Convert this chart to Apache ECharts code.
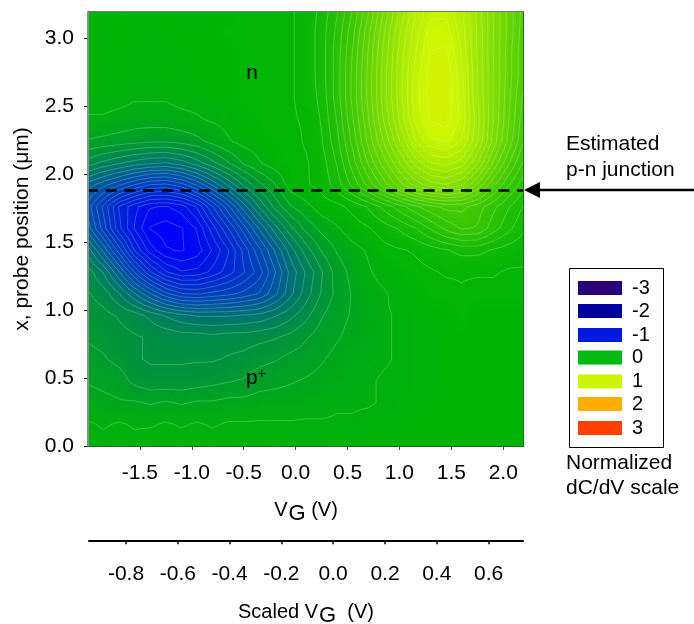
<!DOCTYPE html>
<html><head><meta charset="utf-8">
<style>html,body{margin:0;padding:0;background:#fff}#c{width:694px;height:624px}</style>
<script src="https://cdn.jsdelivr.net/npm/echarts@6/dist/echarts.min.js"></script>
</head><body><div id="c"></div>
<script>
const gateVoltages = [-2,-1.85,-1.7,-1.55,-1.4,-1.25,-1.1,-.95,-.8,-.65,-.5,-.35,-.2,-.05,.1,.25,.4,.55,.7,.85,1,1.15,1.3,1.45,1.6,1.75,1.9,2.05,2.2];
const positions = [3.2,3.04,2.88,2.72,2.56,2.4,2.24,2.08,1.92,1.76,1.6,1.44,1.28,1.12,.96,.8,.64,.48,.32,.16,0];
const dCdV = [
[0,0,.01,0,0,0,0,-.01,0,0,.01,.01,.02,.02,.04,.09,.17,.28,.42,.58,.73,.87,.96,.96,.88,.76,.63,.51,.4],
[0,-.01,0,0,-.01,0,0,0,0,.01,.01,.02,.02,.02,.04,.1,.19,.31,.46,.62,.77,.9,1,1,.9,.77,.63,.51,.39],
[-.01,0,0,-.01,-.01,-.01,0,0,0,0,.01,.01,.02,.02,.04,.1,.2,.33,.48,.64,.79,.92,1.03,1.04,.92,.77,.63,.5,.38],
[0,-.01,0,-.01,-.01,0,-.01,0,0,0,.01,.01,.02,.02,.04,.1,.2,.34,.49,.65,.8,.94,1.05,1.06,.94,.78,.63,.5,.38],
[-.01,-.01,-.01,-.02,-.02,-.02,-.01,-.01,0,0,.01,.01,.02,.02,.04,.09,.2,.34,.49,.65,.8,.95,1.05,1.06,.95,.78,.63,.49,.36],
[-.03,-.03,-.04,-.05,-.05,-.05,-.04,-.03,-.02,-.01,0,.01,.02,.02,.03,.08,.18,.32,.47,.63,.78,.93,1.03,1.05,.96,.8,.63,.48,.34],
[-.08,-.09,-.1,-.11,-.12,-.12,-.11,-.09,-.06,-.03,-.01,0,.01,.01,.03,.07,.16,.29,.44,.58,.72,.87,.96,.98,.92,.78,.61,.46,.32],
[-.2,-.24,-.27,-.3,-.32,-.33,-.3,-.25,-.19,-.13,-.07,-.03,0,.01,.02,.05,.13,.25,.38,.5,.62,.74,.82,.84,.8,.68,.52,.38,.26],
[-.4,-.46,-.52,-.58,-.63,-.64,-.6,-.52,-.42,-.32,-.22,-.14,-.08,0,.02,.04,.1,.19,.29,.4,.5,.59,.65,.67,.63,.52,.39,.28,.19],
[-.5,-.64,-.78,-.86,-.92,-.93,-.9,-.82,-.68,-.54,-.4,-.27,-.16,-.08,-.04,0,.01,.04,.08,.14,.2,.26,.31,.34,.34,.3,.24,.18,.12],
[-.45,-.6,-.76,-.88,-.98,-1,-.98,-.92,-.8,-.68,-.55,-.42,-.3,-.19,-.11,-.06,-.03,0,.02,.05,.08,.12,.18,.24,.28,.27,.2,.14,.08],
[-.3,-.44,-.6,-.78,-.9,-.97,-.98,-.95,-.87,-.78,-.66,-.54,-.42,-.3,-.2,-.12,-.07,-.04,-.02,.01,.02,.03,.05,.07,.09,.09,.07,.05,.04],
[-.2,-.28,-.42,-.58,-.72,-.82,-.87,-.86,-.81,-.75,-.68,-.6,-.48,-.36,-.27,-.18,-.1,-.06,-.03,-.01,0,.01,.02,.03,.03,.03,.03,.02,.02],
[-.17,-.2,-.27,-.37,-.47,-.56,-.62,-.63,-.61,-.59,-.56,-.52,-.44,-.34,-.25,-.17,-.11,-.07,-.04,-.03,-.01,0,.01,.01,.02,.01,.01,.01,.01],
[-.15,-.16,-.18,-.2,-.24,-.28,-.31,-.33,-.33,-.33,-.32,-.31,-.28,-.24,-.19,-.13,-.09,-.07,-.05,-.03,-.02,-.01,0,0,.01,0,0,0,0],
[-.13,-.14,-.16,-.17,-.18,-.19,-.2,-.2,-.21,-.2,-.2,-.19,-.18,-.16,-.13,-.1,-.08,-.06,-.05,-.03,-.02,-.01,-.01,0,0,0,0,0,0],
[-.11,-.12,-.14,-.17,-.18,-.18,-.18,-.18,-.18,-.17,-.16,-.14,-.13,-.11,-.1,-.08,-.06,-.05,-.04,-.03,-.02,-.01,-.01,0,0,0,0,0,0],
[-.08,-.09,-.1,-.14,-.16,-.16,-.16,-.15,-.14,-.13,-.12,-.1,-.09,-.08,-.07,-.06,-.05,-.04,-.03,-.02,-.02,-.01,-.01,0,0,0,0,0,0],
[-.05,-.06,-.07,-.07,-.08,-.07,-.08,-.07,-.07,-.06,-.06,-.05,-.05,-.05,-.04,-.04,-.03,-.03,-.03,-.02,-.01,-.01,0,0,0,0,0,0,0],
[-.02,-.03,-.02,-.03,-.03,-.02,-.03,-.02,-.03,-.02,-.02,-.02,-.02,-.02,-.02,-.02,-.02,-.02,-.01,-.01,-.01,0,0,0,0,0,0,0,0],
[0,-.01,0,-.01,0,-.01,0,-.01,0,-.01,0,-.01,0,-.01,-.01,-.01,0,-.01,0,0,0,0,0,0,0,0,0,0,0]
];
const xTicks = [-1.5,-1,-.5,0,.5,1,1.5,2];
const yTicks = [0,.5,1,1.5,2,2.5,3];
const scaledTicks = [-.8,-.6,-.4,-.2,0,.2,.4,.6];
const junctionPosition = 1.88;
const legendLabels = ['-3','-2','-1','0','1','2','3'];
const legendColors = ['#2b0078','#00009b','#0018e0','#05b910','#ccf500','#ffad00','#ff4000'];
const colorValues = [-3,-2,-1,-.5,0,1,2,3];
const colorRgb = [[42,0,122],[0,0,154],[0,0,250],[0,78,172],[0,180,6],[206,246,0],[255,173,0],[255,64,0]];

const FONT = '"Liberation Sans", Arial, sans-serif';
const LABEL = 21;
const SUB = 4, LEVEL_STEP = 0.05;

function colorAt(v){
  for(let k=0;k<colorValues.length-1;k++){
    if(v<=colorValues[k+1]){
      const t=Math.max(0,(v-colorValues[k])/(colorValues[k+1]-colorValues[k]));
      const a=colorRgb[k],b=colorRgb[k+1];
      return 'rgb('+Math.round(a[0]+(b[0]-a[0])*t)+','+Math.round(a[1]+(b[1]-a[1])*t)+','+Math.round(a[2]+(b[2]-a[2])*t)+')';
    }
  }
  return 'rgb(255,64,0)';
}
const lineStyle={stroke:'rgba(225,255,225,0.3)',lineWidth:0.8};
function contourSegments(px,py,w,h,v,children){
  const lo=Math.min.apply(null,v),hi=Math.max.apply(null,v);
  const k0=Math.ceil((lo-LEVEL_STEP/2)/LEVEL_STEP),k1=Math.floor((hi-LEVEL_STEP/2)/LEVEL_STEP);
  for(let k=k0;k<=k1;k++){
    const L=k*LEVEL_STEP+LEVEL_STEP/2,pts=[];
    const edge=(a,b,ax,ay,bx,by)=>{
      if((a<L)!==(b<L)){const t=(L-a)/(b-a);pts.push([ax+(bx-ax)*t,ay+(by-ay)*t]);}
    };
    edge(v[0],v[1],px,py,px+w,py);
    edge(v[1],v[2],px+w,py,px+w,py+h);
    edge(v[3],v[2],px,py+h,px+w,py+h);
    edge(v[0],v[3],px,py,px,py+h);
    for(let m=0;m+1<pts.length;m+=2){
      children.push({type:'line',silent:true,z2:5,shape:{x1:pts[m][0],y1:pts[m][1],x2:pts[m+1][0],y2:pts[m+1][1]},style:lineStyle});
    }
  }
}
function renderCell(params,api){
  const i=api.value(3),j=api.value(4);
  if(i>=gateVoltages.length-1||j>=positions.length-1) return null;
  const p0=api.coord([gateVoltages[i],positions[j]]),p1=api.coord([gateVoltages[i+1],positions[j+1]]);
  const a=dCdV[j][i],b=dCdV[j][i+1],c=dCdV[j+1][i],d=dCdV[j+1][i+1];
  const val=(s,t)=>(a*(1-s)+b*s)*(1-t)+(c*(1-s)+d*s)*t;
  const children=[],dx=(p1[0]-p0[0])/SUB,dy=(p1[1]-p0[1])/SUB;
  for(let u=0;u<SUB;u++)for(let w=0;w<SUB;w++){
    const x0=Math.round(p0[0]+u*dx),x1=Math.round(p0[0]+(u+1)*dx),y0=Math.round(p0[1]+w*dy),y1=Math.round(p0[1]+(w+1)*dy);
    children.push({type:'rect',silent:true,z2:1,shape:{x:x0,y:y0,width:x1-x0,height:y1-y0},style:{fill:colorAt(val((u+.5)/SUB,(w+.5)/SUB))}});
  }
  const sub=[];
  for(let u=0;u<SUB;u++)for(let w=0;w<SUB;w++){
    contourSegments(p0[0]+u*dx,p0[1]+w*dy,dx,dy,[val(u/SUB,w/SUB),val((u+1)/SUB,w/SUB),val((u+1)/SUB,(w+1)/SUB),val(u/SUB,(w+1)/SUB)],sub);
  }
  return {type:'group',children:children.concat(sub)};
}
const nodes=[];
positions.forEach((y,j)=>gateVoltages.forEach((x,i)=>nodes.push([x,y,dCdV[j][i],i,j])));

const txt=(x,y,text,extra)=>({type:'text',x:x,y:y,z:20,style:Object.assign({text:text,font:LABEL+'px '+FONT,fill:'#000',textVerticalAlign:'middle',textBaseline:'middle'},extra||{})});
const frame=(x1,y1,x2,y2,c)=>({type:'line',z:15,shape:{x1:x1,y1:y1,x2:x2,y2:y2},style:{stroke:c,lineWidth:1}});
const graphics=[
  frame(87.5,11.5,523.5,11.5,'#6f7f6f'),frame(87.5,11.5,87.5,446.5,'#8a8f8a'),
  frame(523.5,11.5,523.5,446.5,'#1f6f1f'),frame(87.5,446.5,523.5,446.5,'#2f5f2f'),
  txt(566,144,'Estimated'),txt(566,170,'p-n junction'),
  {type:'line',z:20,shape:{x1:538,y1:190,x2:694,y2:190},style:{stroke:'#000',lineWidth:2.5}},
  {type:'polygon',z:20,shape:{points:[[524,190],[540,182],[540,198]]},style:{fill:'#000'}},
  {type:'rect',z:20,shape:{x:569.5,y:268.5,width:94,height:179},style:{fill:'#fff',stroke:'#000',lineWidth:1}},
  txt(566,463,'Normalized'),txt(566,488,'dC/dV scale'),
  txt(252,73,'n',{textAlign:'center'}),
  {type:'text',x:246,y:378,z:20,style:{rich:{p:{font:LABEL+'px '+FONT,fill:'#000'},s:{font:'14px '+FONT,fill:'#000',padding:[0,0,8,0]}},text:'{p|p}{s|+}',textVerticalAlign:'middle',textBaseline:'middle'}},
  {type:'text',x:22,y:229,z:20,rotation:Math.PI/2,originX:0,originY:0,style:{text:'x, probe position (\u03bcm)',font:LABEL+'px '+FONT,fill:'#000',textAlign:'center',textVerticalAlign:'middle',textBaseline:'middle'}}
];
const legendY=[288,311,335,357.5,381.5,404,428];
legendLabels.forEach((l,k)=>{
  graphics.push({type:'rect',z:21,shape:{x:578,y:legendY[k]-7,width:44,height:14},style:{fill:legendColors[k]}});
  graphics.push(txt(632,legendY[k],l,{font:'20px '+FONT}));
});

const chart=echarts.init(document.getElementById('c'),null,{renderer:'canvas'});
const axisText={fontFamily:FONT,fontSize:LABEL,color:'#000'};
const nameRich={v:{fontFamily:FONT,fontSize:20,color:'#000'},g:{fontFamily:FONT,fontSize:22,color:'#000',padding:[8,0,0,1]}};
chart.setOption({
  animation:false,
  backgroundColor:'#fff',
  grid:[{left:88,top:11,width:436,height:435},{left:89,top:540,width:434,height:1}],
  xAxis:[
    {gridIndex:0,type:'value',min:-2,max:2.2,splitLine:{show:false},z:10,
     axisLine:{show:true,onZero:false,lineStyle:{color:'#2f5f2f'}},
     axisTick:{show:true,length:4,lineStyle:{color:'#444'},customValues:xTicks},
     axisLabel:Object.assign({margin:17,customValues:xTicks,formatter:v=>v.toFixed(1)},axisText),
     name:'{v|V}{g|G}{v| (V)}',nameLocation:'middle',nameGap:49,nameTextStyle:{rich:nameRich}},
    {gridIndex:1,type:'value',min:-.943,max:.733,splitLine:{show:false},
     axisLine:{show:true,onZero:false,lineStyle:{color:'#000',width:2}},
     axisTick:{show:true,length:4,lineStyle:{color:'#000',width:1.5},customValues:scaledTicks},
     axisLabel:Object.assign({margin:23,customValues:scaledTicks,formatter:v=>v.toFixed(1)},axisText),
     name:'{v|Scaled V}{g|G}{v|  (V)}',nameLocation:'middle',nameGap:57,nameTextStyle:{rich:nameRich}}
  ],
  yAxis:[
    {gridIndex:0,type:'value',min:0,max:3.2,splitLine:{show:false},z:10,
     axisLine:{show:true,onZero:false,lineStyle:{color:'#8a8f8a'}},
     axisTick:{show:true,length:4,lineStyle:{color:'#000'},customValues:yTicks},
     axisLabel:Object.assign({margin:14,customValues:yTicks,formatter:v=>v.toFixed(1)},axisText)},
    {gridIndex:1,type:'value',show:false,min:0,max:1}
  ],
  series:[
    {type:'custom',xAxisIndex:0,yAxisIndex:0,data:nodes,renderItem:renderCell,clip:true,silent:true,progressive:0,encode:{x:0,y:1},z:2},
    {type:'line',xAxisIndex:0,yAxisIndex:0,data:[[-2.01,junctionPosition],[2.19,junctionPosition]],showSymbol:false,silent:true,clip:false,z:5,
     lineStyle:{color:'#000',width:2.6,type:[11,7.7]}}
  ],
  graphic:{elements:graphics}
});
</script></body></html>
